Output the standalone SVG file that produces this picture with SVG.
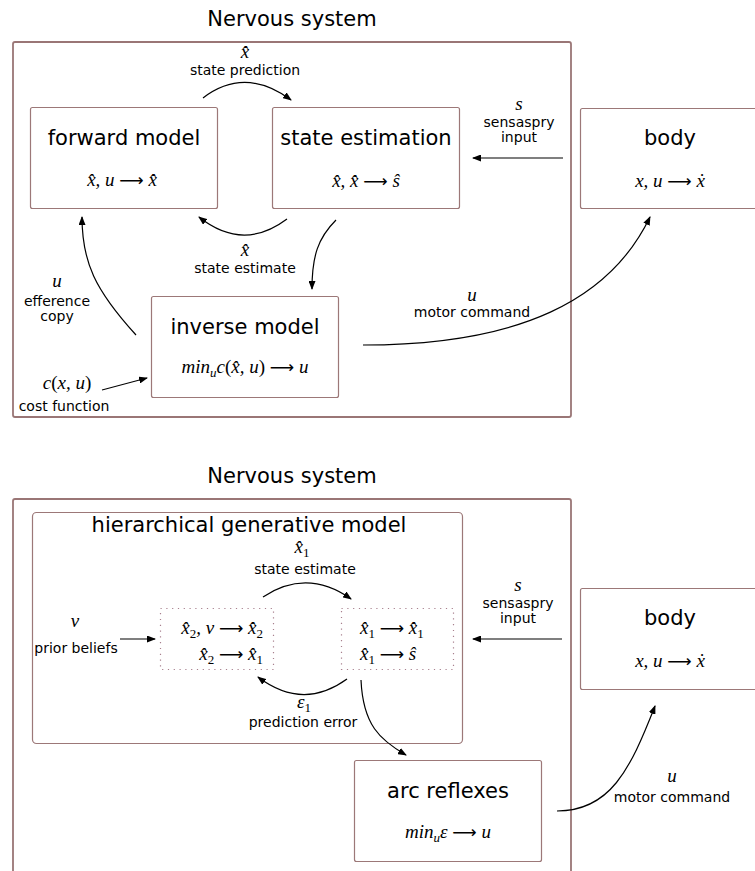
<svg xmlns="http://www.w3.org/2000/svg" width="755" height="871" viewBox="0 0 755 871">
<defs>
<marker id="ah" markerWidth="9" markerHeight="7" refX="8" refY="3.5" orient="auto" markerUnits="userSpaceOnUse">
<path d="M0,0 L9,3.5 L0,7 z" fill="#000"/>
</marker>
</defs>
<style>
.outer{fill:none;stroke:#9a7676;stroke-width:1.8}
.box{fill:#fff;stroke:#9c7878;stroke-width:1.2}
.dot{fill:none;stroke:#a8808e;stroke-width:1.2;stroke-dasharray:1.2 4.6}
.title{font-family:"DejaVu Sans",sans-serif;font-size:21px;fill:#000;text-anchor:middle}
.lbl{font-family:"DejaVu Sans",sans-serif;font-size:14px;fill:#000;text-anchor:middle}
.m{font-family:"Liberation Serif","DejaVu Serif",serif;font-style:italic;font-size:19px;fill:#000;text-anchor:middle}
.n{font-style:normal}
.ar{font-family:"DejaVu Sans",sans-serif;font-style:normal;font-size:17px}
.sub{font-size:13px;font-style:normal}
.su{font-size:13px}
.conn path{fill:none;stroke:#000;stroke-width:1.2}
</style>
<rect width="755" height="871" fill="#fff"/>

<!-- Top section -->
<g id="ns-top">
<text class="title" x="292" y="26">Nervous system</text>
<rect class="outer" x="13" y="42" width="558" height="375" rx="2"/>
</g>
<g id="forward-model">
<rect class="box" x="30.5" y="107.5" width="187" height="101" rx="2"/>
<text class="title" x="124" y="145">forward model</text>
<text class="m" x="122" y="186">x̂, u <tspan class="ar">⟶</tspan> x̂̇</text>
</g>
<g id="state-estimation">
<rect class="box" x="272.5" y="107.5" width="187" height="101" rx="2"/>
<text class="title" x="366" y="145">state estimation</text>
<text class="m" x="366" y="187">x̂, x̂̇ <tspan class="ar">⟶</tspan> ŝ</text>
</g>
<g id="body-top">
<rect class="box" x="580.5" y="108.5" width="200" height="100" rx="2"/>
<text class="title" x="670" y="145">body</text>
<text class="m" x="670" y="187">x, u <tspan class="ar">⟶</tspan> ẋ</text>
</g>
<g id="inverse-model">
<rect class="box" x="151.5" y="296.5" width="187" height="101" rx="2"/>
<text class="title" x="245" y="334">inverse model</text>
<text class="m" x="245" y="373">min<tspan class="su" dy="4">u</tspan><tspan dy="-4">c</tspan><tspan class="n">(</tspan>x̂, u<tspan class="n">)</tspan> <tspan class="ar">⟶</tspan> u</text>
</g>
<g id="labels-top">
<text class="m" x="245" y="58">x̂̇</text>
<text class="lbl" x="245" y="75">state prediction</text>
<text class="m" x="245" y="256">x̂</text>
<text class="lbl" x="245" y="273">state estimate</text>
<text class="m" x="519" y="110">s</text>
<text class="lbl" x="519" y="127">sensaspry</text>
<text class="lbl" x="519" y="142">input</text>
<text class="m" x="57" y="287">u</text>
<text class="lbl" x="57" y="306">efference</text>
<text class="lbl" x="57" y="321">copy</text>
<text class="m" x="67" y="389">c<tspan class="n">(</tspan>x, u<tspan class="n">)</tspan></text>
<text class="lbl" x="64" y="411">cost function</text>
<text class="m" x="472" y="301">u</text>
<text class="lbl" x="472" y="317">motor command</text>
</g>

<!-- Bottom section -->
<g id="ns-bottom">
<text class="title" x="292" y="483">Nervous system</text>
<rect class="outer" x="13" y="499" width="558" height="400" rx="2"/>
</g>
<g id="hierarchical-generative-model">
<rect class="box" x="32.5" y="512.5" width="430" height="231" rx="4"/>
<text class="title" x="249" y="532">hierarchical generative model</text>
</g>
<g id="level2">
<rect class="dot" x="160.5" y="608.5" width="113" height="61"/>
<text class="m" x="263" y="634" style="text-anchor:end">x̂<tspan class="sub" dy="4">2</tspan><tspan dy="-4">, v </tspan><tspan class="ar">⟶</tspan> x̂̇<tspan class="sub" dy="4">2</tspan></text>
<text class="m" x="263" y="660" style="text-anchor:end">x̂<tspan class="sub" dy="4">2</tspan><tspan dy="-4"> </tspan><tspan class="ar">⟶</tspan> x̂<tspan class="sub" dy="4">1</tspan></text>
</g>
<g id="level1">
<rect class="dot" x="341.5" y="608.5" width="112" height="61"/>
<text class="m" x="360" y="634" style="text-anchor:start">x̂<tspan class="sub" dy="4">1</tspan><tspan dy="-4"> </tspan><tspan class="ar">⟶</tspan> x̂̇<tspan class="sub" dy="4">1</tspan></text>
<text class="m" x="360" y="660" style="text-anchor:start">x̂<tspan class="sub" dy="4">1</tspan><tspan dy="-4"> </tspan><tspan class="ar">⟶</tspan> ŝ</text>
</g>
<g id="body-bottom">
<rect class="box" x="580.5" y="588.5" width="200" height="101" rx="2"/>
<text class="title" x="670" y="625">body</text>
<text class="m" x="670" y="667">x, u <tspan class="ar">⟶</tspan> ẋ</text>
</g>
<g id="arc-reflexes">
<rect class="box" x="354.5" y="760.5" width="187" height="101" rx="2"/>
<text class="title" x="448" y="798">arc reflexes</text>
<text class="m" x="448" y="838">min<tspan class="su" dy="4">u</tspan><tspan dy="-4">ε </tspan><tspan class="ar">⟶</tspan> u</text>
</g>
<g id="labels-bottom">
<text class="m" x="302" y="553">x̂<tspan class="sub" dy="4">1</tspan></text>
<text class="lbl" x="305" y="574">state estimate</text>
<text class="m" x="75" y="627">v</text>
<text class="lbl" x="76" y="653">prior beliefs</text>
<text class="m" x="518" y="591">s</text>
<text class="lbl" x="518" y="608">sensaspry</text>
<text class="lbl" x="518" y="623">input</text>
<text class="m" x="304" y="708">ε<tspan class="sub" dy="4">1</tspan></text>
<text class="lbl" x="303" y="727">prediction error</text>
<text class="m" x="672" y="782">u</text>
<text class="lbl" x="672" y="802">motor command</text>
</g>

<g id="connectors" class="conn">
<path d="M203,98 Q245,66 291,100" marker-end="url(#ah)"/>
<path d="M287,219 Q243,252 199,217" marker-end="url(#ah)"/>
<path d="M336,220 C318,238 312,256 312,289" marker-end="url(#ah)"/>
<path d="M136,335 C95,290 82,262 82,217" marker-end="url(#ah)"/>
<path d="M102,390 L147,378" marker-end="url(#ah)"/>
<path d="M563,158 L473,158" marker-end="url(#ah)"/>
<path d="M363,345 C520,345 610,300 650,217" marker-end="url(#ah)"/>
<path d="M263,597 Q307,568 351,599" marker-end="url(#ah)"/>
<path d="M120,639 L155,639" marker-end="url(#ah)"/>
<path d="M562,639 L473,639" marker-end="url(#ah)"/>
<path d="M347,679 Q303,711 258,677" marker-end="url(#ah)"/>
<path d="M361,680 C363,725 380,740 406,755" marker-end="url(#ah)"/>
<path d="M557,811 C610,811 630,770 655,706" marker-end="url(#ah)"/>
</g>
</svg>
